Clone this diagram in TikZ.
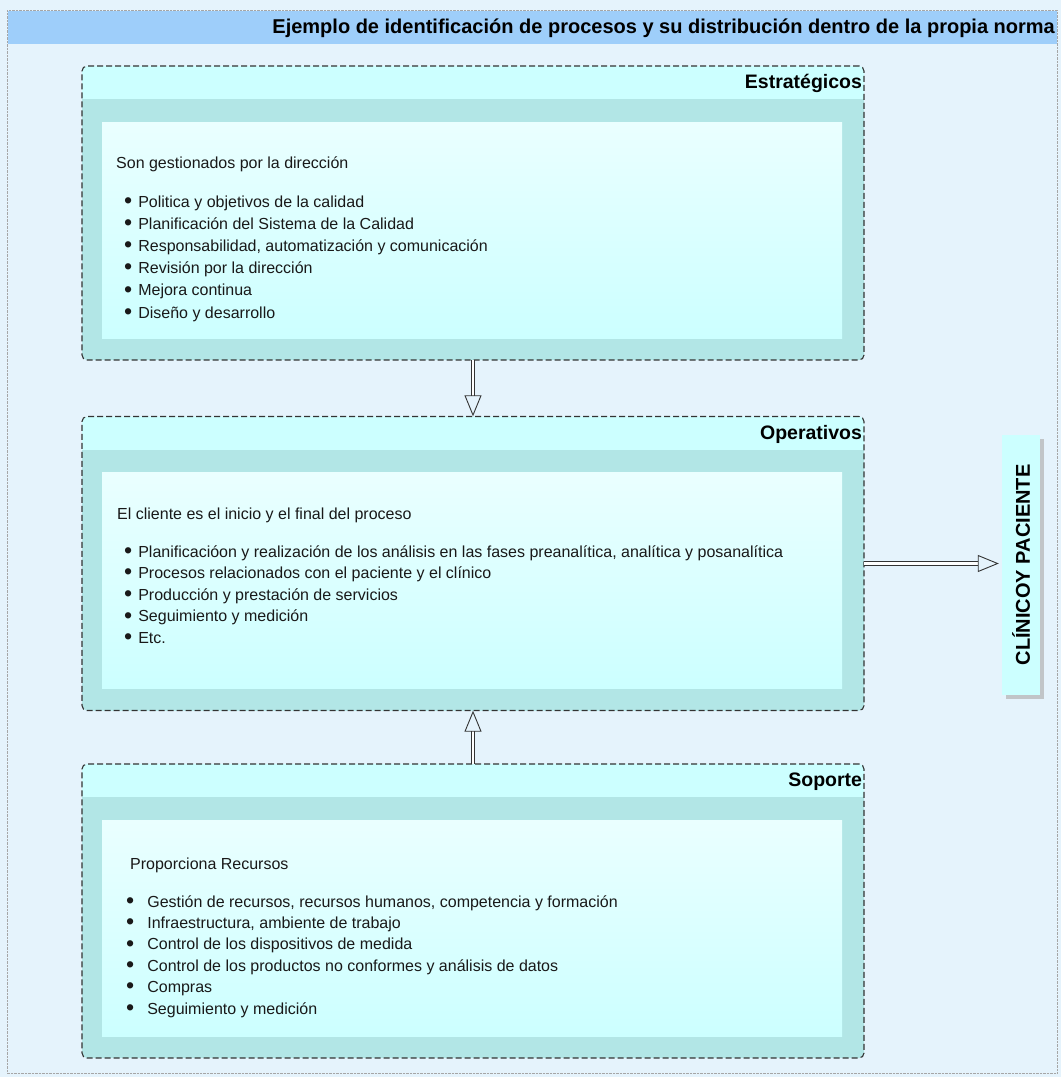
\documentclass[tikz,border=0pt]{standalone}
\usepackage{fontspec}
\setmainfont{Liberation Sans}
\usepackage{array}
\usetikzlibrary{arrows.meta,shadows}

\definecolor{pagebg}{RGB}{229,243,252}
\definecolor{headblue}{RGB}{158,206,250}
\definecolor{boxcyan}{RGB}{204,255,255}
\definecolor{bandteal}{RGB}{178,230,230}
\definecolor{innerhi}{RGB}{234,255,255}
\definecolor{textgray}{RGB}{25,25,25}

\newcommand{\bigdot}{\raisebox{-1.2pt}{\scalebox{1.45}{\textbullet}}}
\newcommand{\proclist}[2]{\begin{tabular}[t]{@{}>{\bigdot\hspace{#1}}l@{}}#2\end{tabular}}

\tikzset{
  procbox/.style={rounded corners=5pt, fill=boxcyan, minimum width=782pt, minimum height=294pt,
    inner sep=0pt,
    path picture={
      \fill[bandteal, sharp corners] ([yshift=-33pt]path picture bounding box.north west)
        rectangle (path picture bounding box.south east);
      \shade[top color=innerhi, bottom color=boxcyan, sharp corners]
        ([xshift=20pt,yshift=-56pt]path picture bounding box.north west)
        rectangle ([xshift=-22pt,yshift=22pt]path picture bounding box.south east);
    },
    postaction={draw=black!80, dash pattern=on 6pt off 3pt, line width=1.1pt}},
  boxtitle/.style={font=\bfseries\fontsize{19.5}{22}\selectfont, inner sep=0pt, anchor=east},
  bodytext/.style={text=textgray, inner sep=0pt, anchor=base west},
  clinbox/.style={fill=boxcyan, minimum width=260pt, minimum height=38pt, inner sep=0pt,
    font=\bfseries\fontsize{20}{22}\selectfont,
    drop shadow={shadow xshift=4pt, shadow yshift=-4pt, fill=black!30, opacity=0.7}},
  dblarrow/.style={draw=black!80, double=white, double distance=2.8pt, line width=0.9pt,
    -{Triangle[open, length=21pt, width=17pt]}}
}

\begin{document}
\begin{tikzpicture}[x=1pt, y=-1pt]
  \useasboundingbox (0,0) rectangle (1061,1077);
  \fill[pagebg] (0,0) rectangle (1061,1077);
  \draw[black!35, densely dotted, fill=pagebg] (7,10) rectangle (1057,1073);
  \fill[headblue] (7.5,10.5) rectangle (1056.5,44);
  \node[font=\bfseries\fontsize{20}{22}\selectfont, inner sep=0pt, anchor=east] (title)
    at (1055,28) {Ejemplo de identificación de procesos y su distribución dentro de la propia norma};

  % the three process groups
  \node[procbox] (estr) at (473,213) {};
  \node[procbox] (oper) at (473,563.5) {};
  \node[procbox] (sop) at (473,911) {};

  \node[boxtitle] (estrtitle) at ([xshift=-2pt,yshift=-18pt]estr.north east) {Estratégicos};
  \node[boxtitle] (opertitle) at ([xshift=-2pt,yshift=-18pt]oper.north east) {Operativos};
  \node[boxtitle] (soptitle) at ([xshift=-2pt,yshift=-18pt]sop.north east) {Soporte};

  \node[bodytext, font=\fontsize{16}{22.2}\selectfont] (estrintro) at (116,168)
    {Son gestionados por la dirección};
  \node[bodytext, font=\fontsize{16}{22.2}\selectfont] (estrlist) at (124,207)
    {\proclist{6pt}{Politica y objetivos de la calidad\\
      Planificación del Sistema de la Calidad\\
      Responsabilidad, automatización y comunicación\\
      Revisión por la dirección\\
      Mejora continua\\
      Diseño y desarrollo}};

  \node[bodytext, font=\fontsize{16}{21.6}\selectfont] (operintro) at (117,519)
    {El cliente es el inicio y el final del proceso};
  \node[bodytext, font=\fontsize{16}{21.6}\selectfont] (operlist) at (124,557)
    {\proclist{6pt}{Planificacióon y realización de los análisis en las fases preanalítica, analítica y posanalítica\\
      Procesos relacionados con el paciente y el clínico\\
      Producción y prestación de servicios\\
      Seguimiento y medición\\
      Etc.}};

  \node[bodytext, font=\fontsize{16}{21.4}\selectfont] (sopintro) at (130,869)
    {Proporciona Recursos};
  \node[bodytext, font=\fontsize{16}{21.4}\selectfont] (soplist) at (126,907)
    {\proclist{13pt}{Gestión de recursos, recursos humanos, competencia y formación\\
      Infraestructura, ambiente de trabajo\\
      Control de los dispositivos de medida\\
      Control de los productos no conformes y análisis de datos\\
      Compras\\
      Seguimiento y medición}};

  \node[clinbox, rotate=90] (clin) at (1021,565) {CLÍNICOY PACIENTE};

  \draw[dblarrow] (estr.south) -- (oper.north);
  \draw[dblarrow] (sop.north) -- (oper.south);
  \draw[dblarrow, shorten >=3pt] (oper.east) -- (oper.east -| clin.north);
\end{tikzpicture}
\end{document}
